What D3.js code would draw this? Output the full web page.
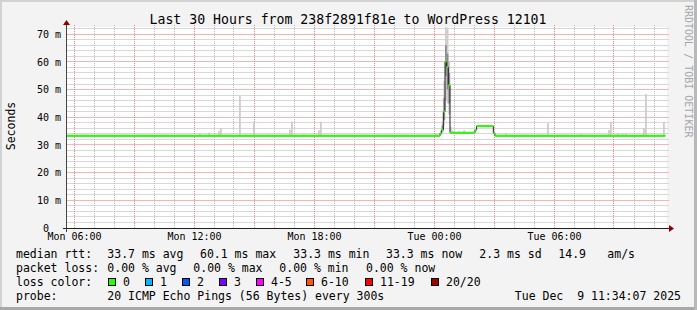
<!DOCTYPE html>
<html>
<head>
<meta charset="utf-8">
<script src="https://cdn.jsdelivr.net/npm/d3@7"></script>
<style>
    body { margin: 0; background: #f3f3f3; }
    svg { display: block; font-family: "DejaVu Sans Mono", monospace; }
    text { white-space: pre; }
</style>
</head>
<body>
<div id="chart"></div>
<script>
// ---- data ----
const titleText = "Last 30 Hours from 238f2891f81e to WordPress 12101"
const startTime = "2025-12-08 05:39"
const endTime = "2025-12-09 11:39"
const lastSample = "2025-12-09 11:34"

const yMax = 72.6
const yTickValues = [0, 10, 20, 30, 40, 50, 60, 70]
const yTickLabels = ["0  ", "10 m", "20 m", "30 m", "40 m", "50 m", "60 m", "70 m"]
const xTickTimes = ["2025-12-08 06:00", "2025-12-08 12:00", "2025-12-08 18:00", "2025-12-09 00:00", "2025-12-09 06:00"]
const xTickLabels = ["Mon 06:00", "Mon 12:00", "Mon 18:00", "Tue 00:00", "Tue 06:00"]

// median rtt (ms), step values starting at each time
const medianTimes = ["2025-12-08 05:39", "2025-12-09 00:18", "2025-12-09 00:23", "2025-12-09 00:28",
    "2025-12-09 00:33", "2025-12-09 00:38", "2025-12-09 00:43", "2025-12-09 00:48",
    "2025-12-09 02:03", "2025-12-09 02:08", "2025-12-09 02:58", "2025-12-09 03:03"]
const medianValues = [33.3, 34.2, 35.4, 42.0, 60.1, 58.2, 51.6, 34.4, 35.4, 36.8, 34.2, 33.3]

// smoke (spread of the 20 pings), ms
const smokeTimes = ["2025-12-08 09:21", "2025-12-08 09:36", "2025-12-08 12:15", "2025-12-08 12:42",
    "2025-12-08 13:12", "2025-12-08 13:18", "2025-12-08 14:15", "2025-12-08 14:57",
    "2025-12-08 15:39", "2025-12-08 16:45", "2025-12-08 16:51", "2025-12-08 17:27",
    "2025-12-08 18:12", "2025-12-08 18:18", "2025-12-09 00:03", "2025-12-09 00:18",
    "2025-12-09 00:23", "2025-12-09 00:28", "2025-12-09 00:33", "2025-12-09 00:38",
    "2025-12-09 00:43", "2025-12-09 00:48", "2025-12-09 00:53", "2025-12-09 01:13",
    "2025-12-09 01:28", "2025-12-09 03:33", "2025-12-09 05:39", "2025-12-09 07:18",
    "2025-12-09 08:42", "2025-12-09 08:48", "2025-12-09 09:09", "2025-12-09 09:24",
    "2025-12-09 09:33", "2025-12-09 10:27", "2025-12-09 10:33", "2025-12-09 11:27"]
const smokeLow = [33.3, 33.3, 33.3, 33.3, 33.3, 33.3, 33.3, 33.3, 33.3, 33.3, 33.3, 33.3,
    33.3, 33.3, 33.3, 33.6, 34.5, 37.0, 46.0, 45.0, 41.0, 34.4, 34.4, 34.4,
    34.4, 33.3, 33.3, 33.3, 33.3, 33.3, 33.3, 33.3, 33.3, 33.3, 33.3, 33.3]
const smokeHigh = [33.7, 33.8, 34.2, 34.4, 35.0, 36.1, 47.8, 38.1, 33.8, 35.5, 38.4, 33.9,
    35.3, 38.4, 34.3, 35.2, 38.5, 53.0, 72.6, 72.3, 60.0, 36.5, 35.2, 35.0,
    35.3, 34.2, 37.8, 33.9, 35.4, 38.4, 34.2, 33.9, 34.1, 36.0, 48.4, 38.3]
const smokeCoreLow = [null, null, null, null, null, null, null, null, null, null, null, null,
    null, null, null, null, 35.0, 39.0, 55.0, 50.0, 45.0, null, null, null,
    null, null, null, null, null, null, null, null, null, null, null, null]
const smokeCoreHigh = [null, null, null, null, null, null, null, null, null, null, null, null,
    null, null, null, null, 37.0, 47.0, 66.0, 63.0, 56.0, null, null, null,
    null, null, null, null, null, null, null, null, null, null, null, null]

// legend
const rttStats = ["33.7 ms avg", "60.1 ms max", "33.3 ms min", "33.3 ms now", "2.3 ms sd", "14.9", "am/s"]
const lossStats = ["0.00 % avg", "0.00 % max", "0.00 % min", "0.00 % now"]
const lossLabels = ["0", "1", "2", "3", "4-5", "6-10", "11-19", "20/20"]
const lossColors = ["#26ff00", "#00b8ff", "#0059ff", "#7e00ff", "#ff00ff", "#ff5500", "#ff0000", "#a10000"]
const probeText = "20 ICMP Echo Pings (56 Bytes) every 300s"
const stampText = "Tue Dec  9 11:34:07 2025"

const mainApp = () => {
    const parse = d3.timeParse("%Y-%m-%d %H:%M")
    const width = 697
    const height = 310
    const x0 = 67, x1 = 667, yBottom = 228, yTop = 27

    const svg = d3.select('#chart').append('svg')
        .attr('width', width)
        .attr('height', height)

    // background + 3d frame
    svg.append('rect').attr('width', width).attr('height', height).attr('fill', '#f3f3f3')
    svg.append('rect').attr('x', 0).attr('y', 0).attr('width', width).attr('height', 2).attr('fill', '#d2d2d2')
    svg.append('rect').attr('x', 0).attr('y', 0).attr('width', 2).attr('height', height).attr('fill', '#d2d2d2')
    svg.append('rect').attr('x', 0).attr('y', height - 3).attr('width', width).attr('height', 3).attr('fill', '#a8a8a8')
    svg.append('rect').attr('x', width - 3).attr('y', 0).attr('width', 3).attr('height', height).attr('fill', '#b8b8b8')

    const start = parse(startTime)
    const end = parse(endTime)
    const x = d3.scaleTime().domain([start, end]).range([x0, x1])
    const y = d3.scaleLinear().domain([0, yMax]).range([yBottom, yTop])

    // canvas
    svg.append('rect').attr('x', x0).attr('y', yTop).attr('width', x1 - x0).attr('height', yBottom - yTop)
        .attr('fill', '#ffffff')

    // grid: minor (2 ms / 1 h) grey, major (10 ms / 3 h) pink
    const grid = svg.append('g')
    const hLines = (vals, col) => grid.append('g').selectAll('line').data(vals).enter().append('line')
        .attr('x1', x0).attr('x2', x1 + 2)
        .attr('y1', d => Math.floor(y(d)) + 0.5).attr('y2', d => Math.floor(y(d)) + 0.5)
        .attr('stroke', col).attr('stroke-width', 1)
    const vLines = (vals, col) => grid.append('g').selectAll('line').data(vals).enter().append('line')
        .attr('x1', d => Math.floor(x(d)) + 0.5).attr('x2', d => Math.floor(x(d)) + 0.5)
        .attr('y1', yTop - 2).attr('y2', yBottom)
        .attr('stroke', col).attr('stroke-width', 1).attr('stroke-dasharray', '1,1')
    hLines(d3.range(2, yMax, 2), '#d8d8d8')
    vLines(d3.timeHour.range(start, end), '#bcbcbc')
    hLines(yTickValues.slice(1), '#f6b4b4')
    vLines(d3.timeHour.every(3).range(start, end), '#f08888')

    // smoke
    const smoke = smokeTimes.map((t, i) => ({
        t: parse(t), lo: smokeLow[i], hi: smokeHigh[i], clo: smokeCoreLow[i], chi: smokeCoreHigh[i]
    }))
    const step = d3.timeMinute.offset
    svg.append('g').selectAll('rect').data(smoke).enter().append('rect')
        .attr('x', d => x(d.t))
        .attr('width', d => Math.max(1.8, x(step(d.t, 5)) - x(d.t)))
        .attr('y', d => y(d.hi))
        .attr('height', d => y(d.lo) - y(d.hi))
        .attr('fill', '#cdcdcd')
    svg.append('g').selectAll('rect').data(smoke.filter(d => d.clo != null)).enter().append('rect')
        .attr('x', d => x(d.t))
        .attr('width', d => Math.max(1.8, x(step(d.t, 5)) - x(d.t)))
        .attr('y', d => y(d.chi))
        .attr('height', d => y(d.clo) - y(d.chi))
        .attr('fill', '#8c8c8c')

    // median line: dark step line, green loss-coloured segments on top
    const med = medianTimes.map((t, i) => ({ t: parse(t), v: medianValues[i] }))
    const medEnd = parse(lastSample)
    const pts = med.concat([{ t: medEnd, v: med[med.length - 1].v }])
    svg.append('path')
        .datum(pts)
        .attr('d', d3.line().x(d => x(d.t)).y(d => y(d.v)).curve(d3.curveStepAfter))
        .attr('fill', 'none')
        .attr('stroke', '#202020')
        .attr('stroke-width', 1)
    svg.append('g').selectAll('line').data(med).enter().append('line')
        .attr('x1', d => x(d.t))
        .attr('x2', (d, i) => x(pts[i + 1].t))
        .attr('y1', d => y(d.v)).attr('y2', d => y(d.v))
        .attr('stroke', lossColors[0])
        .attr('stroke-width', 2)

    // axes
    svg.append('line').attr('x1', x0 - 4).attr('x2', x1 + 4)
        .attr('y1', yBottom + 0.5).attr('y2', yBottom + 0.5)
        .attr('stroke', '#222').attr('stroke-width', 1)
    svg.append('line').attr('x1', x0 - 0.5).attr('x2', x0 - 0.5)
        .attr('y1', yBottom + 4).attr('y2', yTop - 4)
        .attr('stroke', '#444').attr('stroke-width', 1)
    svg.append('path')
        .attr('d', `M${x1 + 2},${yBottom - 3}L${x1 + 2},${yBottom + 4}L${x1 + 7},${yBottom + 0.5}Z`)
        .attr('fill', '#8f0000')
    svg.append('path')
        .attr('d', `M${x0 - 4},${yTop - 2}L${x0 + 3},${yTop - 2}L${x0 - 0.5},${yTop - 7}Z`)
        .attr('fill', '#8f0000')

    // tick labels
    const xAxis = svg.append('g').attr('transform', `translate(0,${yBottom})`)
        .call(d3.axisBottom(x).tickValues(xTickTimes.map(parse)).tickSize(0).tickPadding(5)
            .tickFormat((d, i) => xTickLabels[i]))
    xAxis.select('.domain').remove()
    xAxis.attr('font-family', '"DejaVu Sans Mono", monospace').attr('font-size', 10)
    xAxis.selectAll('text').attr('fill', '#000')

    const yAxis = svg.append('g').attr('transform', 'translate(61,0)')
        .call(d3.axisLeft(y).tickValues(yTickValues).tickSize(0).tickPadding(0)
            .tickFormat((d, i) => yTickLabels[i]))
    yAxis.select('.domain').remove()
    yAxis.attr('font-family', '"DejaVu Sans Mono", monospace').attr('font-size', 10)
    yAxis.selectAll('text').attr('fill', '#000')

    // title, vertical label, watermark
    svg.append('text').attr('x', 348).attr('y', 24).attr('text-anchor', 'middle')
        .attr('font-size', 13.2).attr('fill', '#000').text(titleText)
    svg.append('text').attr('transform', 'translate(15,126) rotate(-90)')
        .attr('text-anchor', 'middle').attr('font-size', 11.5).attr('fill', '#000').text('Seconds')
    svg.append('text').attr('transform', 'translate(684.5,5) rotate(90)')
        .attr('font-size', 10).attr('fill', '#a6a6a6').text('RRDTOOL / TOBI OETIKER')

    // legend
    const legend = svg.append('g').attr('font-size', 11.5).attr('fill', '#000')
    const row = (yy, items) => items.forEach(([xx, s]) =>
        legend.append('text').attr('x', xx).attr('y', yy).text(s))
    const rttX = [107.3, 200, 293.3, 386, 479.3, 558.3, 607.3]
    row(258, [[16, 'median rtt:']].concat(rttStats.map((s, i) => [rttX[i], s])))
    const lossX = [107.3, 193.3, 279.3, 366]
    row(272, [[16, 'packet loss:']].concat(lossStats.map((s, i) => [lossX[i], s])))
    row(286, [[16, 'loss color:']])
    const boxX = [108.5, 145.5, 182.5, 219.5, 256.5, 306.5, 365.5, 431.5]
    lossLabels.forEach((lab, i) => {
        legend.append('rect').attr('x', boxX[i]).attr('y', 278.5).attr('width', 7).attr('height', 7)
            .attr('fill', lossColors[i]).attr('stroke', '#000').attr('stroke-width', 1)
        legend.append('text').attr('x', boxX[i] + 14.5).attr('y', 286).text(lab)
    })
    row(300, [[16, 'probe:'], [107.3, probeText]])
    legend.append('text').attr('x', 681).attr('y', 300).attr('text-anchor', 'end').text(stampText)
}

mainApp();
</script>
</body>
</html>
